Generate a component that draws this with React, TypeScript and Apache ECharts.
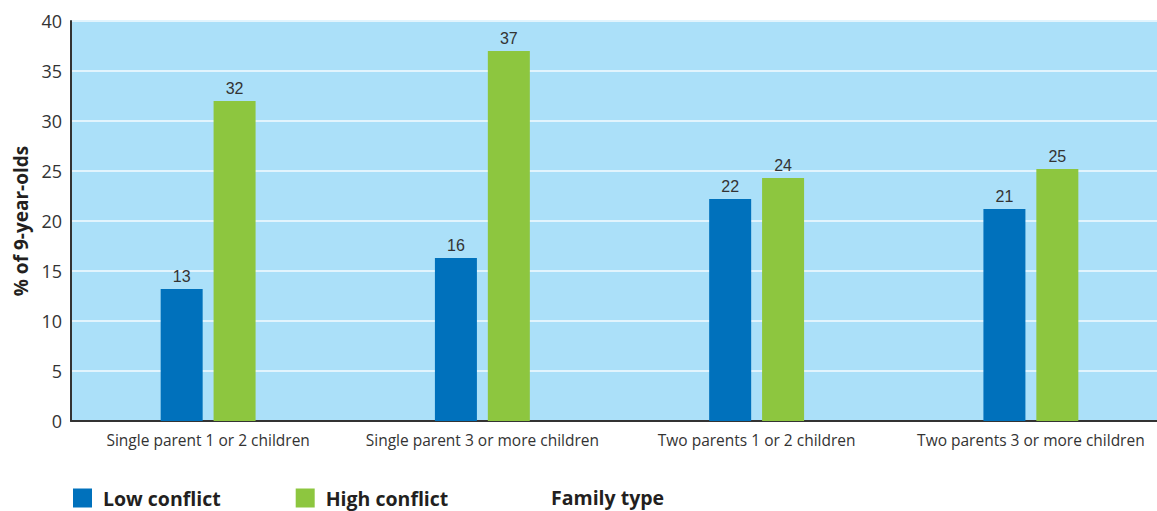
import React, { useEffect, useRef } from "react";
import * as echarts from "echarts";

const categories = [
  "Single parent 1 or 2 children",
  "Single parent 3 or more children",
  "Two parents 1 or 2 children",
  "Two parents 3 or more children",
];
const lowConflict = [13.2, 16.3, 22.2, 21.2];
const highConflict = [32, 37, 24.3, 25.2];
const seriesNames = ["Low conflict", "High conflict"];
const yAxisTitle = "% of 9-year-olds";
const xAxisTitle = "Family type";

const BLUE = "#0071bc";
const GREEN = "#8dc63f";
const FONT = "'Open Sans', 'Noto Sans', sans-serif";

export default function App() {
  const ref = useRef<HTMLDivElement>(null);
  useEffect(() => {
    if (!ref.current) return;
    const chart = echarts.init(ref.current, undefined, { renderer: "svg" });
    const label = {
      show: true,
      position: "top" as const,
      distance: 5,
      fontFamily: "'Liberation Sans', Arial, sans-serif",
      fontSize: 16,
      color: "#333",
      formatter: (p: any) => String(Math.round(p.value)),
    };
    chart.setOption({
      animation: false,
      backgroundColor: "#fff",
      grid: {
        left: 71,
        right: 0,
        top: 21,
        bottom: 90,
        show: true,
        backgroundColor: "#abe0f9",
        borderWidth: 0,
      },
      legend: {
        left: 73,
        top: 488,
        padding: 0,
        itemWidth: 19,
        itemHeight: 19,
        itemGap: 75,
        icon: "rect",
        data: seriesNames,
        textStyle: {
          fontFamily: FONT,
          fontSize: 19.5,
          fontWeight: "bold",
          color: "#231f20",
          padding: [0, 0, 0, 6],
        },
      },
      xAxis: {
        type: "category",
        data: categories,
        axisLine: { show: true, lineStyle: { color: "#333", width: 2 } },
        axisTick: { show: false },
        axisLabel: {
          interval: 0,
          margin: 11,
          fontFamily: FONT,
          fontSize: 15.5,
          color: "#333",
        },
      },
      yAxis: {
        type: "value",
        min: 0,
        max: 40,
        interval: 5,
        name: yAxisTitle,
        nameLocation: "middle",
        nameRotate: 90,
        nameGap: 41,
        nameTextStyle: {
          fontFamily: FONT,
          fontSize: 19,
          fontWeight: "bold",
          color: "#231f20",
        },
        axisLine: { show: true, lineStyle: { color: "#333", width: 2 } },
        axisTick: { show: false },
        axisLabel: {
          margin: 9,
          fontFamily: FONT,
          fontSize: 18,
          color: "#333",
        },
        splitLine: { show: true, lineStyle: { color: "#e2f4fd", width: 2 } },
      },
      graphic: [
        {
          type: "text",
          left: 551,
          top: 487,
          style: {
            text: xAxisTitle,
            font: `bold 19.5px ${FONT}`,
            fill: "#231f20",
          },
        },
      ],
      series: [
        {
          name: seriesNames[0],
          type: "bar",
          data: lowConflict,
          barWidth: 42,
          barGap: "26%",
          itemStyle: { color: BLUE },
          label,
        },
        {
          name: seriesNames[1],
          type: "bar",
          data: highConflict,
          barWidth: 42,
          itemStyle: { color: GREEN },
          label,
        },
      ],
    });
    return () => chart.dispose();
  }, []);
  return (
    <div
      style={{
        position: "fixed",
        left: 0,
        top: 0,
        width: 1157,
        height: 511,
        overflow: "hidden",
        background: "#fff",
      }}
    >
      <div ref={ref} style={{ width: 1168, height: 511 }} />
    </div>
  );
}
